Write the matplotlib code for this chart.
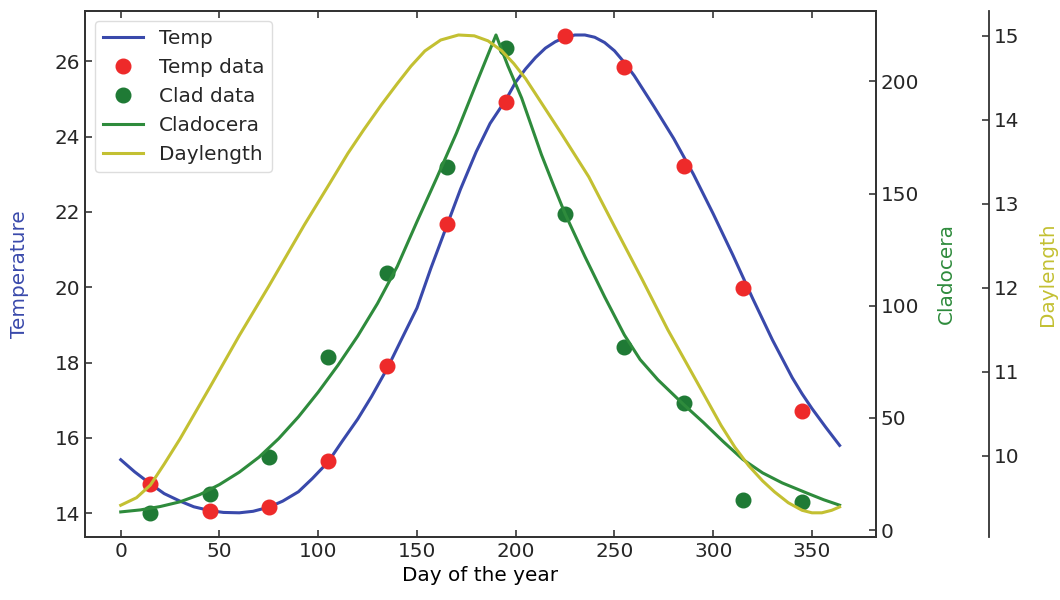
import numpy as np
import matplotlib
matplotlib.use("Agg")
import matplotlib.pyplot as plt

# --- DATA ---------------------------------------------------------------------
obs_days   = [15, 45, 75, 105, 135, 165, 195, 225, 255, 285, 315, 345]
temp_obs   = [14.78, 14.06, 14.17, 15.38, 17.90, 21.67, 24.92, 26.66, 25.84, 23.23, 19.97, 16.72]
clad_obs   = [7.7, 16.3, 32.6, 77.0, 114.8, 161.8, 215.0, 140.7, 81.8, 56.7, 13.4, 12.7]

temp_days  = [0, 7, 15, 22, 30, 37, 45, 52, 60, 67, 75, 82, 90, 97, 105, 112,
              120, 127, 135, 142, 150, 157, 165, 172, 180, 187, 195, 200, 205,
              210, 215, 220, 225, 230, 235, 240, 245, 250, 255, 260, 270, 280,
              290, 300, 310, 320, 330, 340, 345, 350, 357, 364]
temp_curve = [15.42, 15.10, 14.78, 14.52, 14.32, 14.17, 14.07, 14.02, 14.01, 14.05,
              14.16, 14.32, 14.57, 14.92, 15.36, 15.90, 16.50, 17.10, 17.85, 18.60,
              19.45, 20.50, 21.62, 22.60, 23.60, 24.35, 24.98, 25.45, 25.80, 26.10,
              26.35, 26.52, 26.64, 26.70, 26.70, 26.64, 26.50, 26.28, 25.97, 25.62,
              24.80, 23.95, 23.00, 21.95, 20.85, 19.70, 18.60, 17.60, 17.17, 16.78,
              16.28, 15.80]

clad_days  = [0, 10, 20, 30, 40, 50, 60, 70, 80, 90, 100, 110, 120, 130, 140,
              150, 160, 170, 180, 190, 196, 203, 208, 213, 219, 225, 235, 245,
              255, 263, 272, 285, 295, 305, 315, 325, 335, 348, 356, 364]
clad_curve = [8.1, 9.0, 10.5, 12.6, 15.8, 20.3, 25.8, 32.5, 40.8, 50.5, 61.5,
              73.5, 86.5, 101.0, 117.5, 137.5, 157.0, 177.0, 199.0, 220.7, 207.0,
              192.6, 180.0, 167.4, 154.0, 141.0, 122.0, 104.0, 87.0, 76.0, 67.0,
              56.0, 48.0, 39.5, 31.5, 25.5, 21.0, 16.3, 13.5, 11.1]

day_days   = [0, 8, 15, 22, 30, 45, 60, 75, 93, 106, 115, 123, 132, 140, 147,
              154, 162, 171, 179, 186, 193, 199, 205, 210, 223, 237, 250, 264,
              277, 291, 304, 311, 318, 325, 331, 338, 345, 350, 355, 360, 364]
day_curve  = [9.41, 9.50, 9.65, 9.90, 10.20, 10.81, 11.43, 12.02, 12.75, 13.25,
              13.60, 13.88, 14.18, 14.43, 14.64, 14.82, 14.95, 15.01, 15.00, 14.94,
              14.82, 14.67, 14.49, 14.31, 13.84, 13.32, 12.73, 12.10, 11.50, 10.91,
              10.36, 10.10, 9.88, 9.70, 9.57, 9.44, 9.35, 9.32, 9.32, 9.35, 9.39]

# --- STYLE --------------------------------------------------------------------
FS = 14.4
BLUE   = "#3949AB"
RED    = "#EE2A2A"
GREEN  = "#2E8B3C"
DGREEN = "#1F7A35"
YELLOW = "#C3C032"
GREY   = "#262626"

plt.rcParams["font.family"] = "DejaVu Sans"
plt.rcParams["font.size"] = FS
plt.rcParams["text.color"] = GREY
plt.rcParams["axes.edgecolor"] = "#333333"
plt.rcParams["xtick.color"] = GREY
plt.rcParams["ytick.color"] = GREY

fig = plt.figure(figsize=(10.6, 6), dpi=100)
ax = fig.add_axes([0.080, 0.1055, 0.746, 0.876])
ax2 = ax.twinx()
ax3 = ax.twinx()
ax3.spines["right"].set_position(("axes", 1.144))
for s in ["top", "bottom", "left"]:
    ax3.spines[s].set_visible(False)

l1, = ax.plot(temp_days, temp_curve, color=BLUE, lw=2.2, label="Temp")
p1, = ax.plot(obs_days, temp_obs, "o", color=RED, ms=10.5, label="Temp data")
p2, = ax2.plot(obs_days, clad_obs, "o", color=DGREEN, ms=10.5, label="Clad data")
l2, = ax2.plot(clad_days, clad_curve, color=GREEN, lw=2.2, label="Cladocera")
l3, = ax3.plot(day_days, day_curve, color=YELLOW, lw=2.2, label="Daylength")

ax.set_xlabel("Day of the year", fontsize=FS)
ax.set_ylabel("Temperature", color=BLUE, fontsize=FS, labelpad=18)
ax2.set_ylabel("Cladocera", color=GREEN, fontsize=FS, labelpad=13)
ax3.set_ylabel("Daylength", color=YELLOW, fontsize=FS, labelpad=13)

ax.set_xticks([0, 50, 100, 150, 200, 250, 300, 350])
ax.set_yticks([14, 16, 18, 20, 22, 24, 26])
ax2.set_yticks([0, 50, 100, 150, 200])
ax3.set_yticks([10, 11, 12, 13, 14, 15])

ax.tick_params(direction="in", length=5, width=1.1, labelsize=FS, top=True)
ax2.tick_params(direction="in", length=5, width=1.1, labelsize=FS)
ax3.tick_params(direction="in", length=5, width=1.1, labelsize=FS)
for a in (ax, ax2, ax3):
    for s in a.spines.values():
        s.set_linewidth(1.3)

leg = ax.legend(handles=[l1, p1, p2, l2, l3], loc="upper left", fontsize=FS,
                framealpha=1, edgecolor="#DDDDDD")

plt.savefig("out.png", dpi=100)
